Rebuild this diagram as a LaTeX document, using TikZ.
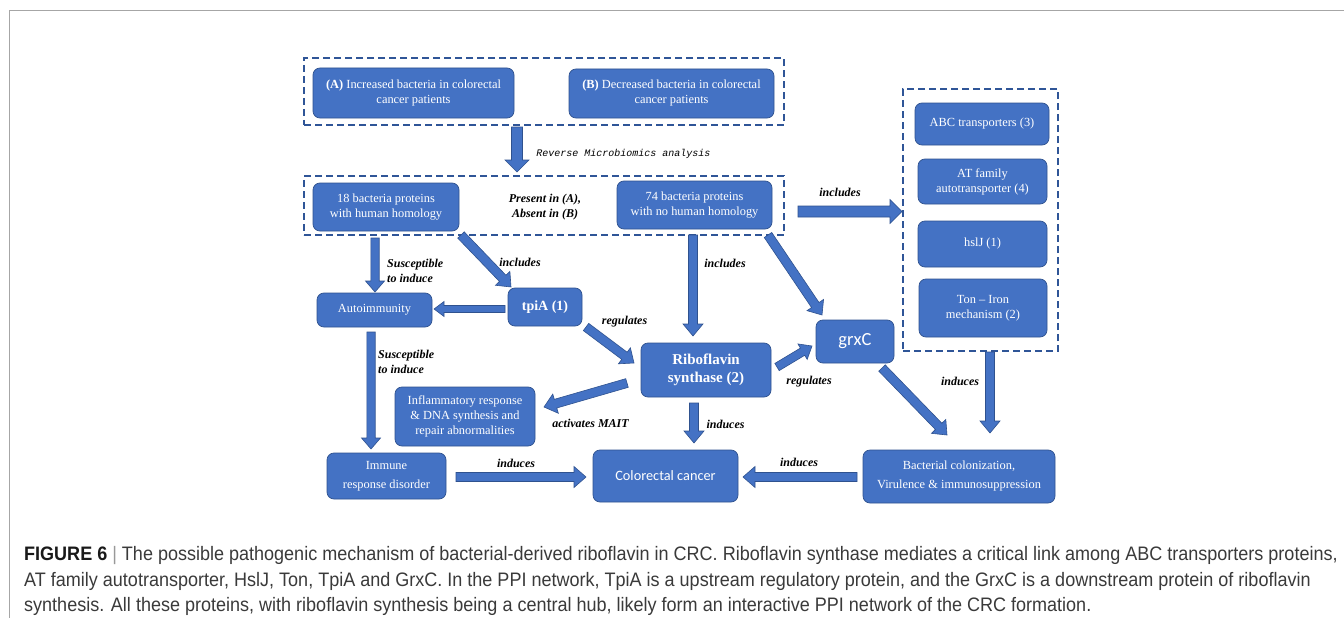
\documentclass[tikz,border=0pt]{standalone}
\usepackage{fontspec}
\setmainfont{Liberation Serif}
\newfontfamily\capfont[FakeStretch=0.924]{Liberation Sans}
\newfontfamily\calib{Carlito}
\newfontfamily\monoit{Liberation Mono}
\usetikzlibrary{calc}
\definecolor{boxblue}{HTML}{4472C4}
\definecolor{boxedge}{HTML}{2F528F}
\definecolor{dashblue}{HTML}{2F5597}
\definecolor{capgray}{HTML}{3A3A3A}
\tikzset{
 bbox/.style={draw=boxedge, line width=0.7pt, fill=boxblue, rounded corners=7pt, text=white, align=center, inner sep=0pt, font=\fontsize{12.4}{15}\selectfont},
 dbox/.style={draw=dashblue, line width=1.8pt, dash pattern=on 7pt off 4pt, inner sep=0pt},
 lbl/.style={font=\fontsize{12}{15}\selectfont\bfseries\itshape, text=black, align=center, inner sep=0pt},
 arr/.style={fill=boxblue, draw=boxedge, line width=0.6pt, line join=miter},
}
% block arrow: from, to, half shaft, half head, head length
\newcommand\barrow[5]{%
  \draw[arr] let \p1=#1, \p2=#2,
     \n1={atan2(\y2-\y1,\x2-\x1)}, \n2={veclen(\x2-\x1,\y2-\y1)} in
     ($(\p1)+(\n1+90:#3pt)$) -- ($(\p1)+(\n1:\n2-#5pt)+(\n1+90:#3pt)$)
     -- ($(\p1)+(\n1:\n2-#5pt)+(\n1+90:#4pt)$) -- (\p2)
     -- ($(\p1)+(\n1:\n2-#5pt)+(\n1-90:#4pt)$) -- ($(\p1)+(\n1:\n2-#5pt)+(\n1-90:#3pt)$)
     -- ($(\p1)+(\n1-90:#3pt)$) -- cycle;}
\begin{document}
\begin{tikzpicture}[x=1pt,y=1pt]
\useasboundingbox (0,0) rectangle (1344,-618);
\fill[white] (0,0) rectangle (1344,-618);
\draw[color=black!35, line width=1pt] (9.3,-618) -- (9.3,-10.5) -- (1344,-10.5);

% dashed groups
\node[dbox, minimum width=480pt, minimum height=67pt] (dash1) at (544,-91.5) {};
\node[dbox, minimum width=480pt, minimum height=59pt] (dash2) at (544,-205.5) {};
\node[dbox, minimum width=155pt, minimum height=262pt] (dash3) at (980.5,-220) {};

% boxes
\node[bbox, minimum width=201pt, minimum height=50pt] (A) at (413.5,-93) {\textbf{(A)} Increased bacteria in colorectal\\cancer patients};
\node[bbox, minimum width=205pt, minimum height=49pt] (B) at (671.5,-93.5) {\textbf{(B)} Decreased bacteria in colorectal\\cancer patients};
\node[bbox, minimum width=146pt, minimum height=48pt] (p18) at (386,-207) {18 bacteria proteins\\with human homology};
\node[bbox, minimum width=155pt, minimum height=48pt] (p74) at (694.5,-205) {74 bacteria proteins\\with no human homology};
\node[bbox, minimum width=134pt, minimum height=42pt] (abc) at (982,-124) {ABC transporters (3)};
\node[bbox, minimum width=129pt, minimum height=45pt] (at) at (982.5,-181.5) {AT family\\autotransporter (4)};
\node[bbox, minimum width=129pt, minimum height=46pt] (hsl) at (982.5,-244) {hslJ (1)};
\node[bbox, minimum width=128pt, minimum height=58pt] (ton) at (983,-308) {Ton -- Iron\\mechanism (2)};
\node[bbox, minimum width=78pt, minimum height=43pt, font=\calib\fontsize{18.5}{20}\selectfont] (grx) at (855,-341.5) {grxC};
\node[bbox, minimum width=115pt, minimum height=34pt] (auto) at (374.5,-310) {Autoimmunity};
\node[bbox, minimum width=74pt, minimum height=38pt, font=\fontsize{14}{16}\selectfont\bfseries] (tpi) at (545,-307) {tpiA (1)};
\node[bbox, minimum width=130pt, minimum height=54pt, font=\fontsize{15}{18}\selectfont\bfseries] (ribo) at (706,-370) {Riboflavin\\synthase (2)};
\node[bbox, minimum width=140pt, minimum height=59pt] (infl) at (465,-416.5) {Inflammatory response\\\& DNA synthesis and\\repair abnormalities};
\node[bbox, minimum width=119pt, minimum height=46pt, font=\fontsize{12.4}{19}\selectfont] (imm) at (386.5,-476) {Immune\\response disorder};
\node[bbox, minimum width=145pt, minimum height=52pt, font=\calib\fontsize{14.3}{17}\selectfont] (crc) at (665.5,-476) {Colorectal cancer};
\node[bbox, minimum width=192pt, minimum height=53pt, font=\fontsize{12.4}{19}\selectfont] (bact) at (959,-476.5) {Bacterial colonization,\\Virulence \& immunosuppression};

% arrows
\barrow{([shift={(-27,-35.5)}]dash1.center)}{([shift={(-27,33.5)}]dash2.center)}{5.5}{12}{12}
\barrow{([shift={(254,-6)}]dash2.center)}{([shift={(-78.5,8.5)}]dash3.center)}{5.5}{12}{12}
\barrow{([shift={(-11,-31)}]p18.center)}{([shift={(0.5,18)}]auto.center)}{4.2}{9.5}{11}
\barrow{([shift={(75,-28)}]p18.center)}{([shift={(-34,20)}]tpi.center)}{4.5}{10}{12}
\barrow{([shift={(-40,-2)}]tpi.center)}{([shift={(59.5,1)}]auto.center)}{3.5}{7.5}{10}
\barrow{([shift={(-1.5,-30)}]p74.center)}{([shift={(-13,34)}]ribo.center)}{4.5}{10}{12}
\barrow{([shift={(73.5,-30)}]p74.center)}{([shift={(-33,26.5)}]grx.center)}{4.5}{10}{12}
\barrow{([shift={(41,-20)}]tpi.center)}{([shift={(-72,7)}]ribo.center)}{4.5}{10}{12}
\barrow{([shift={(71,3)}]ribo.center)}{([shift={(-43,-4.5)}]grx.center)}{4.2}{9}{11}
\barrow{([shift={(-79,-13)}]ribo.center)}{([shift={(79,9.5)}]infl.center)}{4.5}{10}{12}
\barrow{([shift={(-12,-33)}]ribo.center)}{([shift={(28.5,33)}]crc.center)}{4.5}{10}{12}
\barrow{([shift={(-3.5,-22)}]auto.center)}{([shift={(-15.5,27)}]imm.center)}{4.2}{9.5}{11}
\barrow{([shift={(69.5,-1)}]imm.center)}{([shift={(-79.5,-1)}]crc.center)}{4.5}{10.5}{12}
\barrow{([shift={(-102,-0.5)}]bact.center)}{([shift={(77.5,-1)}]crc.center)}{4.5}{10.5}{12}
\barrow{([shift={(27,-26.5)}]grx.center)}{([shift={(-12,41.5)}]bact.center)}{4.5}{10}{12}
\barrow{([shift={(9.5,-132)}]dash3.center)}{([shift={(31,43.5)}]bact.center)}{4.5}{10}{12}

% labels
\node[font=\monoit\itshape\fontsize{10}{12}\selectfont, inner sep=0pt] (lrev) at (623.5,-154) {Reverse Microbiomics analysis};
\node[lbl] (lpres) at (545,-207.5) {Present in (A),\\Absent in (B)};
\node[lbl] (linc1) at (840,-192) {includes};
\node[lbl, align=left, anchor=west] (lsus1) at (387,-270.5) {Susceptible\\to induce};
\node[lbl] (linc2) at (520,-262) {includes};
\node[lbl] (linc3) at (725,-263) {includes};
\node[lbl] (lreg1) at (624.5,-322) {regulates};
\node[lbl] (lreg2) at (809,-382) {regulates};
\node[lbl] (lmait) at (590.5,-423) {activates MAIT};
\node[lbl] (lind1) at (725.5,-424) {induces};
\node[lbl, align=left, anchor=west] (lsus2) at (378,-361.5) {Susceptible\\to induce};
\node[lbl] (lind2) at (516,-463) {induces};
\node[lbl] (lind3) at (799,-462) {induces};
\node[lbl] (lind4) at (960,-381) {induces};

% caption
\node[anchor=base west, inner sep=0pt, text=capgray, font=\capfont\fontsize{19.5}{26}\selectfont] (cap1) at (24,-560) {{\color{black!90}\bfseries FIGURE 6} {\color{black!40}|} The possible pathogenic mechanism of bacterial-derived riboflavin in CRC. Riboflavin synthase mediates a critical link among ABC transporters proteins,};
\node[anchor=base west, inner sep=0pt, text=capgray, font=\capfont\fontsize{19.5}{26}\selectfont] (cap2) at (24,-586) {AT family autotransporter, HslJ, Ton, TpiA and GrxC. In the PPI network, TpiA is a upstream regulatory protein, and the GrxC is a downstream protein of riboflavin};
\node[anchor=base west, inner sep=0pt, text=capgray, font=\capfont\fontsize{19.5}{26}\selectfont] (cap3) at (24,-611) {synthesis. All these proteins, with riboflavin synthesis being a central hub, likely form an interactive PPI network of the CRC formation.};
\end{tikzpicture}
\end{document}
